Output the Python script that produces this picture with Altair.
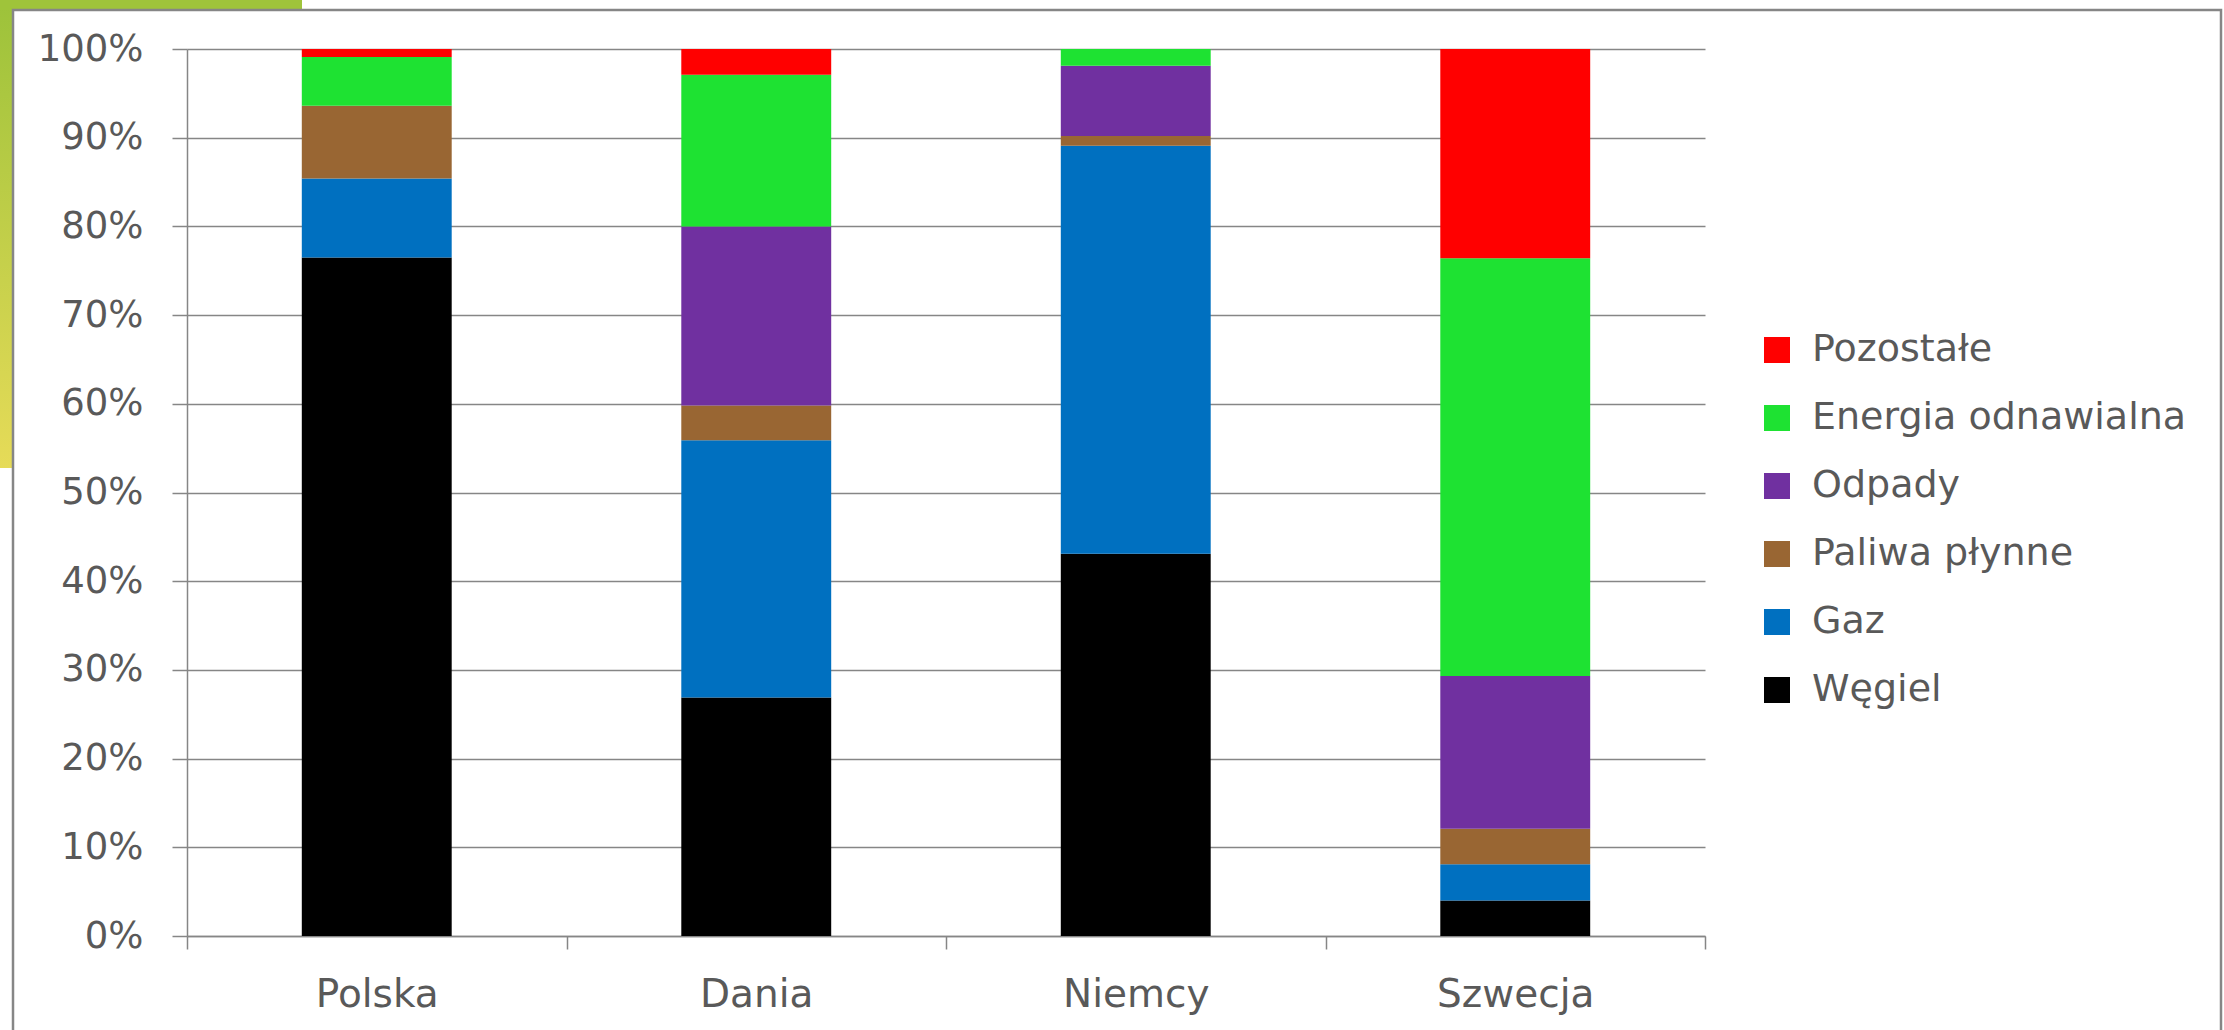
import altair as alt
import pandas as pd

# Energy mix by country (share of each fuel, %)
countries = ["Polska", "Dania", "Niemcy", "Szwecja"]
fuels = ["Węgiel", "Gaz", "Paliwa płynne", "Odpady", "Energia odnawialna", "Pozostałe"]
wegiel = [76.5, 26.9, 43.1, 4.0]
gaz = [8.9, 29.0, 46.0, 4.1]
paliwa = [8.2, 3.9, 1.1, 4.0]
odpady = [0.0, 20.2, 7.9, 17.2]
odnawialna = [5.5, 17.1, 1.9, 47.1]
pozostale = [0.9, 2.9, 0.0, 23.6]
fuel_colors = ["#000000", "#0070C0", "#996633", "#7030A0", "#1EE232", "#FF0000"]

series = [wegiel, gaz, paliwa, odpady, odnawialna, pozostale]
rows = []
for rank, (fuel, vals) in enumerate(zip(fuels, series)):
    for country, v in zip(countries, vals):
        rows.append({"kraj": country, "paliwo": fuel, "udzial": v, "kolejnosc": rank})
df = pd.DataFrame(rows)

W, H = 1518, 887
GRAY = "#868686"
TEXT = "#595959"
FONT = "DejaVu Sans"

legend_domain = fuels[::-1]
legend_range = fuel_colors[::-1]

bars = alt.Chart(df).mark_bar(width=alt.RelativeBandSize(0.395)).encode(
    x=alt.X(
        "kraj:N",
        sort=countries,
        title=None,
        scale=alt.Scale(paddingInner=0, paddingOuter=0),
        axis=alt.Axis(
            labelAngle=0,
            tickBand="extent",
            tickSize=13,
            tickColor=GRAY,
            tickWidth=1.5,
            domainColor=GRAY,
            domainWidth=1.5,
            labelFontSize=39,
            labelColor=TEXT,
            labelFont=FONT,
            labelPadding=26,
            grid=False,
        ),
    ),
    y=alt.Y(
        "udzial:Q",
        stack="normalize",
        title=None,
        scale=alt.Scale(domain=[0, 1], nice=False),
        axis=alt.Axis(
            format=".0%",
            values=[i / 10 for i in range(11)],
            tickSize=15,
            tickColor=GRAY,
            tickWidth=1.5,
            domainColor=GRAY,
            domainWidth=1.5,
            gridColor=GRAY,
            gridWidth=1.5,
            labelFontSize=37,
            labelColor=TEXT,
            labelFont=FONT,
            labelPadding=29,
        ),
    ),
    color=alt.Color(
        "paliwo:N",
        scale=alt.Scale(domain=legend_domain, range=legend_range),
        legend=alt.Legend(
            title=None,
            orient="none",
            legendX=1571,
            legendY=282,
            symbolType="square",
            symbolSize=676,
            symbolStrokeWidth=0,
            labelFontSize=38,
            labelFont=FONT,
            labelColor=TEXT,
            labelOffset=16,
            labelLimit=0,
            rowPadding=30,
            padding=0,
        ),
    ),
    order=alt.Order("kolejnosc:Q", sort="ascending"),
)

# Slide backdrop: green/yellow edge and the grey chart frame
one = alt.Data(values=[{}])
edge_left = alt.Chart(one).mark_rect(
    color=alt.Gradient(
        gradient="linear",
        stops=[alt.GradientStop(color="#9cc23a", offset=0), alt.GradientStop(color="#e6db58", offset=1)],
        x1=0, x2=0, y1=0, y2=1,
    )
).encode(x=alt.value(-187), x2=alt.value(-174), y=alt.value(-49), y2=alt.value(419))
edge_top = alt.Chart(one).mark_rect(color="#9fc43a").encode(
    x=alt.value(-187), x2=alt.value(115), y=alt.value(-49), y2=alt.value(-39)
)
frame = alt.Chart(one).mark_rect(filled=False, stroke=GRAY, strokeWidth=2.5).encode(
    x=alt.value(-174), x2=alt.value(2034), y=alt.value(-39), y2=alt.value(1200)
)

chart = alt.layer(edge_left, edge_top, frame, bars).properties(
    width=W,
    height=H,
    autosize=alt.AutoSizeParams(type="none"),
    padding={"left": 187, "top": 49, "right": 2224 - 187 - W, "bottom": 1030 - 49 - H},
    background="white",
).configure_view(stroke=None)

chart.save("out.html", embed_options={"renderer": "svg", "actions": False})
